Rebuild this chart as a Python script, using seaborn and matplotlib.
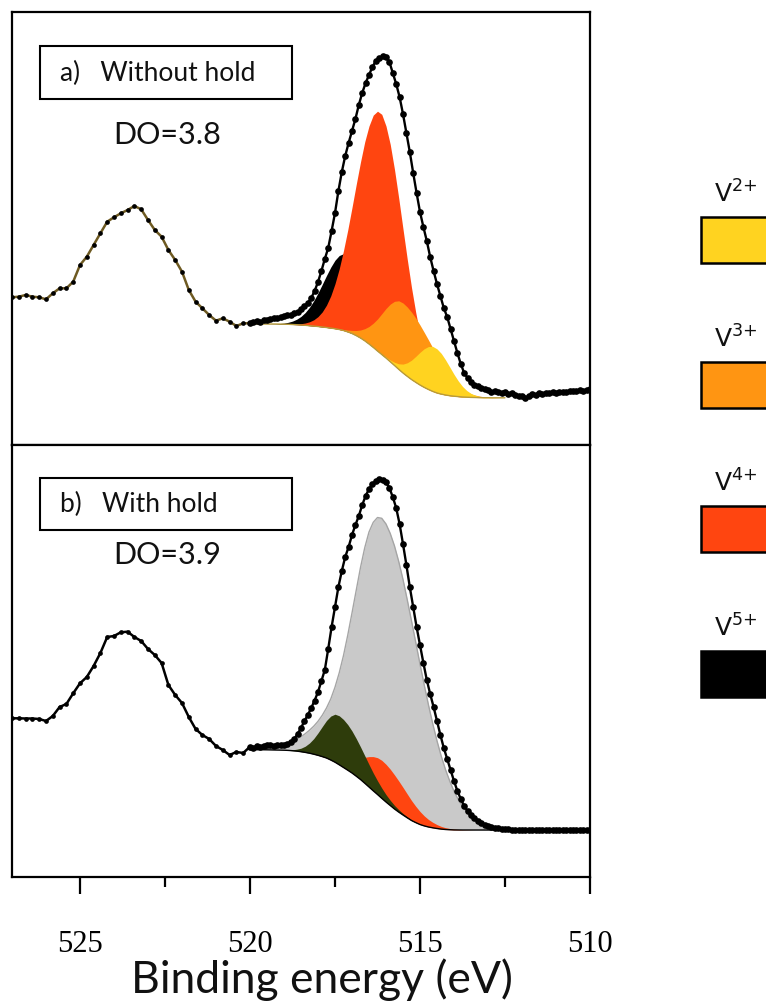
import numpy as np
import matplotlib
matplotlib.use("Agg")
import matplotlib.pyplot as plt
import seaborn as sns
from matplotlib.patches import Rectangle

# ---------------- data (binding energy in eV, intensity in arbitrary units) -------------
E_LEFT = np.linspace(527.0, 520.0, 36)     # measured, satellite region
E_FIT = np.linspace(520.0, 510.0, 101)     # measured, fitted V2p3/2 region
E_COMP = np.linspace(520.0, 512.5, 61)     # fitted components grid

# Panel a) without hold
A_LEFT = [147.7, 148.3, 150, 148.3, 147.7, 145.7, 151.7, 156.7, 156.7, 163.3,
          180, 188.3, 200, 211.7, 223.3, 227.7, 231.7, 235, 239, 235.7,
          225, 215, 208.3, 195, 185, 173.3, 155, 143.3, 136.7, 130,
          124.3, 126.7, 123.3, 119, 121.7, 121.7]
A_FIT = [121.7, 122.5, 123.5, 122.8, 124.5, 125, 125.7, 127, 126.5, 128,
         128.5, 129.5, 130, 131.5, 133, 135.5, 138.5, 142, 147, 154,
         163, 174, 186, 197, 214, 232, 254, 273, 289, 302,
         314, 326, 340, 352, 362, 370, 378, 384, 387, 388.5,
         388, 383, 372, 361, 348, 331, 312, 293, 272, 252,
         233, 218, 204, 188, 174, 161, 149, 137, 128, 116,
         104, 92, 81, 72, 67, 63, 60, 58.5, 57, 56,
         54.5, 53, 54, 52.5, 51.5, 53, 51, 51.5, 50, 49,
         48.5, 46.5, 49, 50.5, 50, 51.5, 51, 52, 51.5, 53,
         52, 52.5, 53, 52.5, 53.5, 54, 53.5, 54.5, 54, 55, 55.5]
A_BG = [121, 121, 121, 121, 121, 121, 121, 120.9, 120.8, 120.7,
        120.5, 120.3, 120, 119.7, 119.3, 118.9, 118.5, 118, 117.5, 116.9,
        116.3, 115.5, 114.5, 113.1, 111.5, 109.4, 107, 104.2, 101, 97.6,
        94, 90.5, 87, 83.3, 79.5, 75.7, 72, 68.7, 65.5, 62.7,
        60, 57.6, 55.5, 53.6, 52, 50.9, 50, 49.3, 48.8, 48.4,
        48, 47.8, 47.6, 47.5, 47.4, 47.3, 47.3, 47.2, 47.2, 47.2, 47.2]
A_V2 = [0, 0, 0, 0, 0, 0, 0, 0, 0, 0,
        0, 0, 0, 0, 0, 0, 0, 0, 0, 0,
        0, 0, 0, 0, 0, 0, 0, 0, 0, 0,
        0.2, 0.4, 0.9, 1.7, 3.2, 5.5, 8.9, 13.5, 19.3, 25.9,
        32.7, 38.7, 43, 45, 44.1, 40.7, 35.2, 28.7, 21.9, 15.7,
        10.6, 6.7, 4.0, 2.2, 1.2, 0.6, 0.3, 0.1, 0, 0, 0]
A_V3 = [0, 0, 0, 0, 0, 0, 0, 0, 0, 0,
        0, 0, 0, 0, 0, 0, 0, 0, 0, 0.1,
        0.3, 0.5, 1.0, 1.8, 3.1, 5.1, 8.0, 12.1, 17.5, 24.2,
        32, 40.7, 49.5, 57.6, 64.2, 68.5, 70, 69.3, 67.4, 64.2,
        60, 55, 49.5, 43.6, 37.8, 32, 26.7, 22, 17.5, 12.5,
        8, 5.5, 3.5, 2.4, 1.5, 0.9, 0.5, 0.3, 0.2, 0.1, 0]
A_V4 = [0, 0, 0, 0, 0, 0, 0, 0, 0.1, 0.2,
        0.4, 0.8, 1.3, 2.3, 3.9, 6.3, 9.9, 15.1, 22.4, 32.2,
        45, 60.8, 80, 101.9, 126, 151.3, 176, 199, 218, 232.3,
        239.8, 240.2, 232, 217.3, 196, 171, 144, 117.1, 92, 69.8,
        51, 36.2, 24.8, 16.3, 10.4, 6.4, 3.8, 2.2, 1.2, 0.6,
        0.3, 0.1, 0, 0, 0, 0, 0, 0, 0, 0, 0]
A_V5 = [0, 0, 0, 0, 0.1, 0.2, 0.3, 0.6, 1.1, 2.0,
        3.4, 5.5, 8.6, 12.8, 18.4, 25.3, 33.5, 42.6, 52, 60.9,
        68.5, 74, 76.8, 76.5, 73, 67.1, 59, 50.1, 40.8, 31.8,
        23.9, 17.2, 11.9, 8, 5, 3.1, 1.8, 1.0, 0.6, 0.3,
        0.1, 0, 0, 0, 0, 0, 0, 0, 0, 0,
        0, 0, 0, 0, 0, 0, 0, 0, 0, 0, 0]

# Panel b) with hold
B_LEFT = [158.7, 158.7, 158.5, 158.5, 158, 156, 161, 170, 173, 183.7,
          193.7, 200, 211, 224, 240, 241, 244.7, 245.3, 240, 236,
          228, 222, 214, 192, 182, 174, 160, 148, 142, 138,
          131, 127, 122, 125, 124, 130.3]
B_FIT = [130.3, 129.5, 131, 130.5, 131.5, 132.5, 132, 131.5, 132.5, 132,
         132.5, 133.5, 135, 138, 143, 149, 156, 162, 169, 176.5,
         185, 196, 207, 228, 250, 270, 290, 306, 320, 330,
         342, 352, 361, 372, 381, 388, 393, 396, 397.5, 397,
         395, 389, 380, 369, 353, 333, 312, 290, 270, 250,
         232, 214, 197, 183, 170, 156, 142, 129, 118, 107,
         96, 86, 78, 71, 66, 62, 59, 56.5, 54.5, 52.5,
         51, 50, 49.5, 49, 48.5, 48, 48, 47.5, 47.5, 47.5,
         47.3, 47.3, 47.2, 47.3, 47.2, 47.2, 47.3, 47.2, 47.2, 47.1,
         47.2, 47.1, 47.2, 47.1, 47.2, 47.1, 47.1, 47.2, 47.1, 47.1, 47.1]
B_BG = [127.3, 127.3, 127.3, 127.25, 127.2, 127.1, 127, 126.9, 126.8, 126.6,
        126.3, 125.9, 125.3, 124.6, 123.8, 122.8, 121.7, 120.4, 119, 117,
        114.8, 112.2, 109.5, 106.8, 104, 100.8, 97.5, 93.8, 90, 86.2,
        82.5, 78.7, 75, 71.5, 68, 64.9, 62, 59.2, 56.5, 54.4,
        52.5, 51.1, 50, 49.2, 48.5, 47.9, 47.5, 47.3, 47.1, 47.05,
        47, 47, 47, 47, 47, 47, 47, 47, 47, 47, 47]
B_GRAY = [0, 0.1, 0.3, 0.6, 1, 1.6, 2.5, 3.6, 5, 6.8,
          9, 11.7, 15, 18.7, 23, 28, 34, 41.3, 50, 61,
          75, 92, 112, 135, 160, 186, 212, 235.5, 255, 268.5,
          277, 280, 278, 272, 263, 250.5, 235.5, 218, 199.6, 180.2,
          160.4, 140.8, 121.9, 104, 87.6, 72.9, 59.9, 48.6, 38.6, 30.4,
          23.6, 18.1, 13.7, 10.2, 7.5, 5.4, 3.9, 2.8, 1.9, 1.3, 0.9]
B_OLIVE = [0, 0, 0, 0, 0, 0, 0, 0, 0.2, 0.4,
           0.9, 1.9, 3.5, 6.2, 10.2, 15.6, 22.4, 30, 37.5, 43.9,
           48, 49, 48, 45.6, 42, 37.6, 32.6, 27.5, 22.5, 17.8,
           13.7, 10.3, 7.4, 5.2, 3.6, 2.4, 1.5, 1.0, 0.6, 0.4,
           0.2, 0, 0, 0, 0, 0, 0, 0, 0, 0,
           0, 0, 0, 0, 0, 0, 0, 0, 0, 0, 0]
B_RED = [0, 0, 0, 0, 0, 0, 0, 0, 0, 0,
         0, 0, 0, 0, 0, 0, 0.3, 0.5, 0.9, 1.5,
         2.5, 4.0, 6, 8.8, 12.3, 16.5, 21.1, 25.9, 30.4, 34.2,
         36.8, 38, 37.7, 36.3, 34.1, 31.1, 27.6, 23.8, 20, 16.3,
         13, 10, 7.5, 5.5, 3.9, 2.7, 1.8, 1.2, 0.8, 0.5,
         0.3, 0.2, 0.1, 0, 0, 0, 0, 0, 0, 0, 0]

LEGEND_LABELS = ["V$^{2{+}}$", "V$^{3{+}}$", "V$^{4{+}}$", "V$^{5{+}}$"]
LEGEND_COLORS = ["#FFD320", "#FF9512", "#FF4510", "#000000"]
PANEL_TITLES = ["a)   Without hold", "b)   With hold"]
DO_TEXTS = ["DO=3.8", "DO=3.9"]
XTICKS = [525, 520, 515, 510]
XMINOR = [522.5, 517.5, 512.5]

# ---------------- styling ----------------
sns.set_theme(style="white")
plt.rcParams['font.family'] = ['Lato', 'DejaVu Sans']
plt.rcParams['mathtext.fontset'] = 'dejavusans'

W, H = 766, 1001
fig = plt.figure(figsize=(W / 100, H / 100), dpi=100)
ax_a = fig.add_axes([12 / W, 1 - 445 / H, 578 / W, 433 / H])
ax_b = fig.add_axes([12 / W, 1 - 877 / H, 578 / W, 432 / H])

for ax, top in ((ax_a, 433), (ax_b, 432)):
    ax.set_xlim(527, 510)
    ax.set_ylim(0, top)
    ax.set_yticks([])
    for s in ax.spines.values():
        s.set_color("black")
        s.set_linewidth(1.6)
    ax.set_facecolor("white")

bg_a = np.array(A_BG)
bg_b = np.array(B_BG)

# ---- panel a: layered components ----
ax_a.fill_between(E_COMP, bg_a, bg_a + np.array(A_V5), color=LEGEND_COLORS[3], lw=0, zorder=2)
ax_a.fill_between(E_COMP, bg_a, bg_a + np.array(A_V4), color=LEGEND_COLORS[2], lw=0, zorder=3)
ax_a.fill_between(E_COMP, bg_a, bg_a + np.array(A_V3), color=LEGEND_COLORS[1], lw=0, zorder=4)
ax_a.fill_between(E_COMP, bg_a, bg_a + np.array(A_V2), color=LEGEND_COLORS[0], lw=0, zorder=5)
sns.lineplot(x=E_COMP, y=bg_a, ax=ax_a, color="#B89B3A", lw=1.0, zorder=6)

sns.lineplot(x=E_LEFT, y=A_LEFT, ax=ax_a, color="#6E5A22", lw=1.8, marker="o",
             markersize=3.4, markerfacecolor="black", markeredgewidth=0, zorder=7)
sns.lineplot(x=E_FIT, y=A_FIT, ax=ax_a, color="black", lw=1.7, marker="o",
             markersize=4.8, markeredgewidth=0, zorder=8)

# ---- panel b ----
ax_b.fill_between(E_COMP, bg_b, bg_b + np.array(B_GRAY), color="#C9C9C9", lw=0, zorder=2)
sns.lineplot(x=E_COMP, y=bg_b + np.array(B_GRAY), ax=ax_b, color="#A5A5A5", lw=1.0, zorder=2.5)
ax_b.fill_between(E_COMP, bg_b, bg_b + np.array(B_RED), color="#FF4510", lw=0, zorder=3)
ax_b.fill_between(E_COMP, bg_b, bg_b + np.array(B_OLIVE), color="#2E3C0B", lw=0, zorder=4)
sns.lineplot(x=E_COMP, y=bg_b, ax=ax_b, color="black", lw=1.0, zorder=6)

sns.lineplot(x=E_LEFT, y=B_LEFT, ax=ax_b, color="black", lw=1.8, marker="o",
             markersize=3.4, markeredgewidth=0, zorder=7)
sns.lineplot(x=E_FIT, y=B_FIT, ax=ax_b, color="black", lw=1.7, marker="o",
             markersize=4.8, markeredgewidth=0, zorder=8)

# ---- ticks ----
ax_a.tick_params(axis="x", which="both", bottom=False, labelbottom=False)
ax_b.set_xticks(XTICKS)
ax_b.set_xticks(XMINOR, minor=True)
ax_b.set_xticklabels([str(t) for t in XTICKS], fontfamily="Liberation Serif", fontsize=22)
ax_b.tick_params(axis="x", which="major", bottom=True, direction="out", length=12,
                 width=1.6, color="black", pad=26, labelcolor="black")
ax_b.tick_params(axis="x", which="minor", bottom=True, direction="out", length=7.5,
                 width=1.6, color="black")

# ---- labels inside panels ----
for ax, title, do, (by0, by1, ty, dy) in (
        (ax_a, PANEL_TITLES[0], DO_TEXTS[0], (0.799, 0.9215, 0.859, 0.716)),
        (ax_b, PANEL_TITLES[1], DO_TEXTS[1], (0.803, 0.9236, 0.862, 0.745))):
    ax.add_patch(Rectangle((0.0484, by0), 0.436, by1 - by0, transform=ax.transAxes,
                           facecolor="white", edgecolor="black", lw=1.5, zorder=10))
    ax.text(0.083, ty, title, transform=ax.transAxes, fontsize=19, va="center",
            ha="left", color="#111111", zorder=11)
    ax.text(0.268, dy, do, transform=ax.transAxes, fontsize=22, va="center",
            ha="center", color="#111111", zorder=11)

fig.text(322 / W, 1 - 980 / H, "Binding energy (eV)", fontsize=32, ha="center",
         va="center", color="#111111")

# ---- legend (colour swatches on the right, cut by the figure edge) ----
lax = fig.add_axes([0, 0, 1, 1], zorder=-1)
lax.set_xlim(0, W)
lax.set_ylim(H, 0)
lax.axis("off")
for i, (lab, col) in enumerate(zip(LEGEND_LABELS, LEGEND_COLORS)):
    top = 217 + 144.7 * i
    lax.add_patch(Rectangle((701, top), 90, 46, facecolor=col, edgecolor="black", lw=1.8))
    lax.text(736, top - 23, lab, fontsize=18, ha="center", va="center",
             family="DejaVu Sans", color="#111111")

fig.savefig("out.png", dpi=100)
